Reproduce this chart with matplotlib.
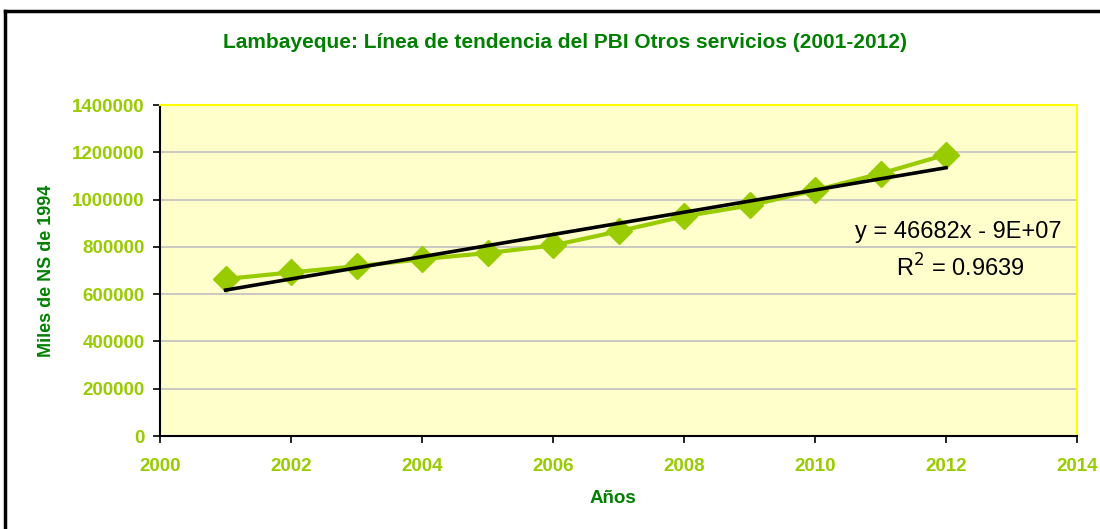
import numpy as np
import matplotlib
matplotlib.use("Agg")
from matplotlib import pyplot as plt
from matplotlib.lines import Line2D
from matplotlib.ticker import FuncFormatter

years = [2001, 2002, 2003, 2004, 2005, 2006, 2007, 2008, 2009, 2010, 2011, 2012]
pbi = [664000, 692000, 718000, 748000, 774000, 806000, 866000, 929000, 975000, 1039000, 1110000, 1190000]
x_ticks = [2000, 2002, 2004, 2006, 2008, 2010, 2012, 2014]
y_ticks = [0, 200000, 400000, 600000, 800000, 1000000, 1200000, 1400000]

verde = '#99CC00'
verde_osc = '#008000'

plt.rcParams['font.family'] = ['Liberation Sans', 'DejaVu Sans']

fig = plt.figure(figsize=(11, 5.29), dpi=100)
ax = fig.add_axes([0.1455, 0.1758, 0.8336, 0.6257])
ax.set_facecolor('#FFFFCC')

# borde del grafico
fig.add_artist(Line2D([5/1100, 5/1100], [0, 1 - 11/529], color='black', lw=2.5))
fig.add_artist(Line2D([5/1100, 1], [1 - 11/529, 1 - 11/529], color='black', lw=2.5))

ax.plot(years, pbi, color=verde, lw=3, marker='D', ms=13.5, zorder=3)

# linea de tendencia
m, b = np.polyfit(years, pbi, 1)
xt = np.array([years[0], years[-1]])
ax.plot(xt, m * xt + b, color='black', lw=2.6, zorder=4)

ax.set_xlim(2000, 2014)
ax.set_ylim(0, 1400000)
ax.set_xticks(x_ticks)
ax.set_yticks(y_ticks)
ax.yaxis.set_major_formatter(FuncFormatter(lambda v, p: '%d' % v))
ax.yaxis.grid(True, color='#C0C0C0', lw=1.2)
ax.set_axisbelow(True)

for s in ['top', 'right']:
    ax.spines[s].set_color('#FFFF00')
    ax.spines[s].set_linewidth(1.5)
for s in ['left', 'bottom']:
    ax.spines[s].set_color('black')
    ax.spines[s].set_linewidth(1.5)

ax.tick_params(direction='out', length=5, width=1.2, color='black',
               labelcolor=verde, labelsize=13.5)
for lab in ax.get_xticklabels() + ax.get_yticklabels():
    lab.set_fontweight('bold')
ax.tick_params(axis='x', pad=11)
ax.tick_params(axis='y', pad=6)

fig.text(565/1100, 1 - 42/529, 'Lambayeque: Línea de tendencia del PBI Otros servicios (2001-2012)',
         color=verde_osc, fontsize=15, fontweight='bold', ha='center', va='center')
ax.set_xlabel('Años', color=verde_osc, fontsize=13.5, fontweight='bold')
ax.xaxis.set_label_coords((613 - 160) / 917, -(498 - 436) / 331)
ax.set_ylabel('Miles de NS de 1994', color=verde_osc, fontsize=13, fontweight='bold')
ax.yaxis.set_label_coords(-(160 - 46) / 917, 0.5)
ax.xaxis.label.set_va('center')
ax.yaxis.label.set_va('center')

ax.text(0.871, 0.617, 'y = 46682x - 9E+07', transform=ax.transAxes,
        ha='center', va='center', fontsize=17, color='black')
ax.text(0.873, 0.507, r'R$^2$ = 0.9639', transform=ax.transAxes,
        ha='center', va='center', fontsize=17, color='black')

plt.savefig('out.png', dpi=100)
